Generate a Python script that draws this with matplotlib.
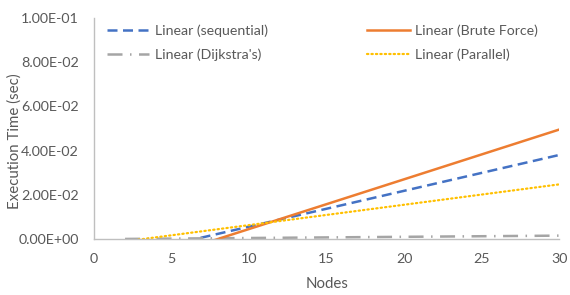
import matplotlib
matplotlib.use("Agg")
import matplotlib.pyplot as plt
from matplotlib.ticker import FuncFormatter, MultipleLocator

# trendline endpoints (Excel linear trendlines, clipped at y = 0)
nodes = [2, 30]
sequential = [-0.0074, 0.0380]
brute_force = [-0.0135, 0.0495]
dijkstra = [0.0000, 0.0015]
parallel = [-0.0011, 0.0247]

grey_text = "#595959"
plt.rcParams['font.family'] = ['Lato', 'DejaVu Sans']

fig = plt.figure(figsize=(5.7, 2.95), dpi=100)
ax = fig.add_axes([0.165, 0.19, 0.816, 0.749])

ax.plot(nodes, sequential, color="#4472C4", lw=1.8, linestyle=(0, (4, 2.2)),
        label="Linear (sequential)")
ax.plot(nodes, dijkstra, color="#A5A5A5", lw=1.8, linestyle=(0, (6, 3, 0.6, 3)),
        label="Linear (Dijkstra's)")
ax.plot(nodes, brute_force, color="#ED7D31", lw=1.8,
        label="Linear (Brute Force)")
ax.plot(nodes, parallel, color="#FFC000", lw=1.6, linestyle=(0, (0.6, 1.4)),
        dash_capstyle="round", label="Linear (Parallel)")

ax.set_xlim(0, 30)
ax.set_ylim(0, 0.1)
ax.xaxis.set_major_locator(MultipleLocator(5))
ax.yaxis.set_major_locator(MultipleLocator(0.02))
ax.yaxis.set_major_formatter(FuncFormatter(lambda v, p: f"{v:.2E}"))

for s in ["top", "right"]:
    ax.spines[s].set_visible(False)
for s in ["left", "bottom"]:
    ax.spines[s].set_color("#BFBFBF")
    ax.spines[s].set_linewidth(1.0)
ax.tick_params(length=0, labelsize=10.3, colors=grey_text)
ax.tick_params(axis="y", pad=11)
ax.tick_params(axis="x", pad=10)

ax.set_xlabel("Nodes", fontsize=10.8, color=grey_text, labelpad=9)
ax.set_ylabel("Execution Time (sec)", fontsize=10.8, color=grey_text)
ax.yaxis.set_label_coords(-0.155, 0.443)

ax.legend(ncol=2, loc="upper left", bbox_to_anchor=(0.0, 1.03), frameon=False,
          fontsize=10.2, labelcolor=grey_text, handlelength=3.0, handletextpad=0.4,
          columnspacing=7.0, labelspacing=0.85)

fig.savefig("out.png", dpi=100)
